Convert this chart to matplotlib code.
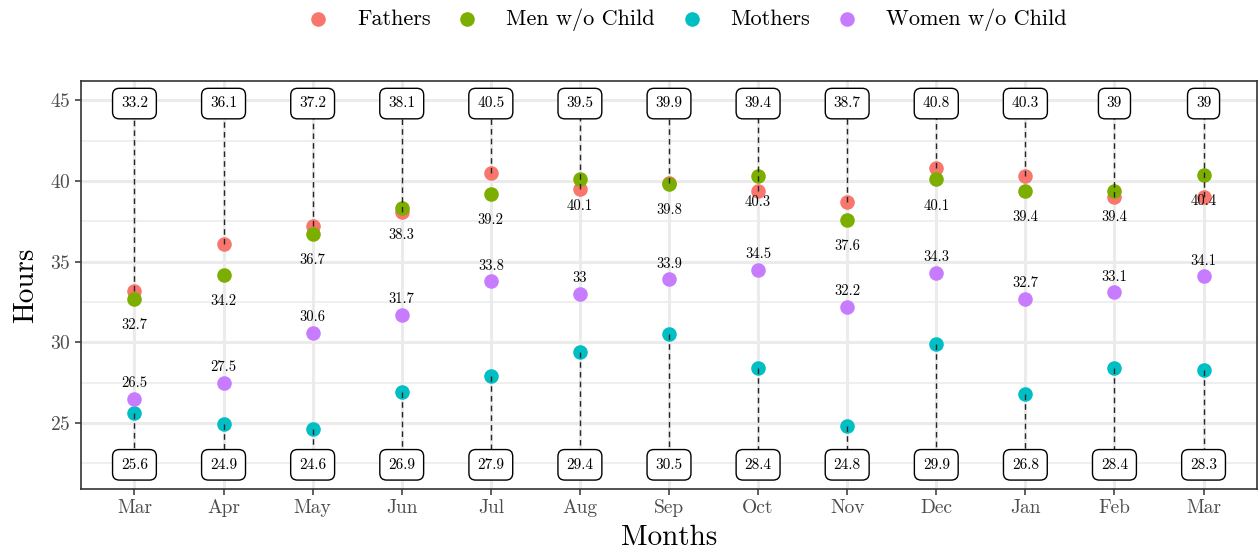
import matplotlib
matplotlib.use("Agg")
import matplotlib.pyplot as plt
import numpy as np

plt.rcParams['font.family'] = ['cmr10', 'DejaVu Sans']
plt.rcParams['axes.formatter.use_mathtext'] = True
plt.rcParams['mathtext.fontset'] = 'cm'

months = ["Mar", "Apr", "May", "Jun", "Jul", "Aug", "Sep", "Oct", "Nov", "Dec", "Jan", "Feb", "Mar"]
fathers = [33.2, 36.1, 37.2, 38.1, 40.5, 39.5, 39.9, 39.4, 38.7, 40.8, 40.3, 39, 39]
men = [32.7, 34.2, 36.7, 38.3, 39.2, 40.1, 39.8, 40.3, 37.6, 40.1, 39.4, 39.4, 40.4]
mothers = [25.6, 24.9, 24.6, 26.9, 27.9, 29.4, 30.5, 28.4, 24.8, 29.9, 26.8, 28.4, 28.3]
women = [26.5, 27.5, 30.6, 31.7, 33.8, 33, 33.9, 34.5, 32.2, 34.3, 32.7, 33.1, 34.1]

series_names = ["Fathers", "Men w/o Child", "Mothers", "Women w/o Child"]
colors = ["#F8766D", "#7CAE00", "#00BFC4", "#C77CFF"]

top_label_y = 44.8
bottom_label_y = 22.4

def fmt(v):
    return f"{v:g}"

fig = plt.figure(figsize=(12.59, 5.58), dpi=100)
ax = fig.add_axes([81/1259, 1-489/558, (1257-81)/1259, (489-81)/558])

x = np.arange(1, len(months)+1)

# grid
for yv in [22.5, 27.5, 32.5, 37.5, 42.5]:
    ax.axhline(yv, color="#EBEBEB", lw=1.1, zorder=0)
for yv in [25, 30, 35, 40, 45]:
    ax.axhline(yv, color="#EBEBEB", lw=2.2, zorder=0)
for xv in x:
    ax.axvline(xv, color="#EBEBEB", lw=2.2, zorder=0)

data = [fathers, men, mothers, women]
for vals, name, c in zip(data, series_names, colors):
    ax.scatter(x, vals, s=110, color=c, label=name, zorder=3, linewidths=0)

# dashed segments
for xi, f, m in zip(x, fathers, mothers):
    ax.plot([xi, xi], [f, top_label_y], ls=(0, (4, 3)), color="#262626", lw=1.0, zorder=4)
    ax.plot([xi, xi], [m, bottom_label_y], ls=(0, (4, 3)), color="#262626", lw=1.0, zorder=4)

box = dict(boxstyle="round,pad=0.55,rounding_size=0.45", fc="white", ec="black", lw=1.0)
for xi, f, m in zip(x, fathers, mothers):
    ax.text(xi, top_label_y, fmt(f), ha="center", va="center", fontsize=11, bbox=box, zorder=5)
    ax.text(xi, bottom_label_y, fmt(m), ha="center", va="center", fontsize=11, bbox=box, zorder=5)

for xi, v in zip(x, men):
    ax.annotate(fmt(v), (xi, v), xytext=(0, -19), textcoords="offset points",
                ha="center", va="center", fontsize=10.5, zorder=6)
for xi, v in zip(x, women):
    ax.annotate(fmt(v), (xi, v), xytext=(0, 11), textcoords="offset points",
                ha="center", va="center", fontsize=10.5, zorder=6)

ax.set_xlim(0.4, 13.6)
ax.set_ylim(20.9, 46.2)
ax.set_xticks(x)
ax.set_xticklabels(months)
ax.set_yticks([25, 30, 35, 40, 45])
ax.tick_params(axis="both", colors="#333333", labelcolor="#4D4D4D", labelsize=14, length=4, width=1.1)
for s in ax.spines.values():
    s.set_color("#333333")
    s.set_linewidth(1.2)

ax.set_xlabel("Months", fontsize=21, labelpad=5)
ax.set_ylabel("Hours", fontsize=21, labelpad=8)

fig.legend(loc="center", bbox_to_anchor=(0.5412, 1 - 20/558), ncol=4, frameon=False,
           fontsize=16, handletextpad=0.75, columnspacing=0.65, markerscale=1.0,
           borderpad=0.1)

fig.savefig("out.png", dpi=100)
